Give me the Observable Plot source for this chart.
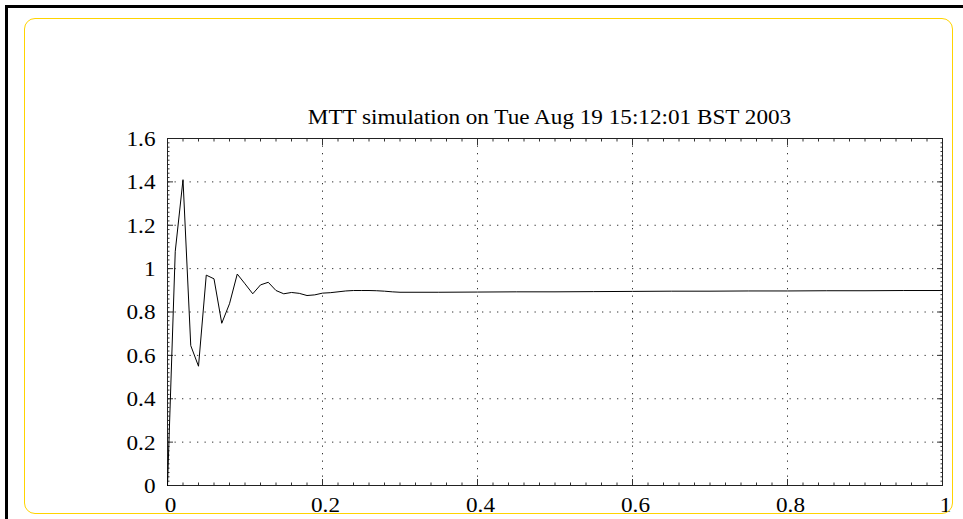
<!DOCTYPE html>
<html>
<head>
<meta charset="utf-8">
<script src="https://cdn.jsdelivr.net/npm/d3@7"></script>
<script src="https://cdn.jsdelivr.net/npm/@observablehq/plot@0.6"></script>
<style>
  html, body { margin: 0; padding: 0; background: #fff; }
  #wrap { position: relative; width: 963px; height: 519px; overflow: hidden; }
  #wrap svg { position: absolute; left: 0; top: 0; }
  #wrap svg text { font-family: "Liberation Serif", "Times New Roman", serif !important; }
  .blackframe { position: absolute; left: 5px; top: 5px; width: 970px; height: 530px;
    border-top: 3px solid #000; border-left: 3px solid #000; box-sizing: border-box; pointer-events: none; }
  .yellowframe { position: absolute; left: 24px; top: 18px; width: 929px; height: 496px;
    border: 1.6px solid #ffd400; border-radius: 11px; box-sizing: border-box; pointer-events: none; }
</style>
</head>
<body>
<div id="wrap"></div>
<script>
const title = "MTT simulation on Tue Aug 19 15:12:01 BST 2003";

const timeValues = [
  0, 0.01, 0.02, 0.03, 0.04, 0.05, 0.06, 0.07, 0.08, 0.09,
  0.10, 0.11, 0.12, 0.13, 0.14, 0.15, 0.16, 0.17, 0.18, 0.19,
  0.20, 0.21, 0.22, 0.23, 0.24, 0.25, 0.26, 0.27, 0.28, 0.29,
  0.30, 0.35, 0.40, 0.45, 0.50, 0.55, 0.60, 0.65, 0.70, 0.75,
  0.80, 0.85, 0.90, 0.95, 1.00
];
const outputValues = [
  0, 1.08, 1.41, 0.645, 0.55, 0.97, 0.953, 0.748, 0.838, 0.975,
  0.93, 0.884, 0.925, 0.937, 0.899, 0.884, 0.89, 0.886, 0.876, 0.879,
  0.887, 0.889, 0.893, 0.897, 0.899, 0.899, 0.899, 0.898, 0.896, 0.893,
  0.891, 0.891, 0.892, 0.893, 0.893, 0.894, 0.895, 0.896, 0.896, 0.897,
  0.897, 0.898, 0.898, 0.899, 0.899
];

const xTicks = [0, 0.2, 0.4, 0.6, 0.8, 1];
const xTickLabels = ["0", "0.2", "0.4", "0.6", "0.8", "1"];
const yTicks = [0, 0.2, 0.4, 0.6, 0.8, 1, 1.2, 1.4, 1.6];
const yTickLabels = ["0", "0.2", "0.4", "0.6", "0.8", "1", "1.2", "1.4", "1.6"];

const data = timeValues.map((t, i) => ({t, v: outputValues[i]}));
const minorX = d3.range(0, 51).map(i => i / 50);
const minorY = d3.range(0, 81).map(i => i / 50);

const gridStyle = {stroke: "#000", strokeOpacity: 0.8, strokeDasharray: "1.3,6.2"};
const tickStyle = {fill: "none", stroke: "#333", label: null};

const chart = Plot.plot({
  width: 963,
  height: 519,
  marginLeft: 167,
  marginRight: 21,
  marginTop: 138,
  marginBottom: 34,
  style: {fontFamily: "'Liberation Serif', 'Times New Roman', serif", fontSize: "20px", background: "transparent", color: "#000"},
  x: {domain: [0, 1], label: null},
  y: {domain: [0, 1.6], label: null},
  marks: [
    Plot.gridX({ticks: xTicks.slice(1, -1), ...gridStyle}),
    Plot.gridY({ticks: yTicks.slice(1, -1), ...gridStyle}),
    Plot.axisX({ticks: minorX, anchor: "bottom", tickSize: -2.5, ...tickStyle}),
    Plot.axisX({ticks: minorX, anchor: "top", tickSize: -2.5, ...tickStyle}),
    Plot.axisY({ticks: minorY, anchor: "left", tickSize: -2.5, ...tickStyle}),
    Plot.axisY({ticks: minorY, anchor: "right", tickSize: -2.5, ...tickStyle}),
    Plot.axisX({ticks: xTicks, anchor: "bottom", tickSize: -6, ...tickStyle}),
    Plot.axisX({ticks: xTicks, anchor: "top", tickSize: -6, ...tickStyle}),
    Plot.axisY({ticks: yTicks, anchor: "left", tickSize: -6, ...tickStyle}),
    Plot.axisY({ticks: yTicks, anchor: "right", tickSize: -6, ...tickStyle}),
    Plot.axisX({ticks: xTicks, anchor: "bottom", tickSize: 0, tickPadding: 12, dx: 3, label: null,
      tickFormat: d => xTickLabels[xTicks.indexOf(d)], fontSize: 20}),
    Plot.axisY({ticks: yTicks, anchor: "left", tickSize: 0, tickPadding: 12, dy: 1, label: null,
      tickFormat: d => yTickLabels[yTicks.indexOf(d)], fontSize: 20}),
    Plot.frame({stroke: "#222", strokeWidth: 1}),
    Plot.line(data, {x: "t", y: "v", stroke: "#000", strokeWidth: 1}),
    Plot.text([title], {frameAnchor: "top", lineAnchor: "bottom", dy: -15, dx: -5.5, fontSize: 20, fill: "#000"})
  ]
});

// the reference lettering is Times stretched horizontally: widen each label about its anchor
chart.querySelectorAll("text").forEach(t => {
  const tr = t.getAttribute("transform") || "";
  t.setAttribute("transform", (tr + " scale(1.16,1)").trim());
});

const wrap = document.getElementById("wrap");
wrap.appendChild(chart);
const bf = document.createElement("div"); bf.className = "blackframe"; wrap.appendChild(bf);
const yf = document.createElement("div"); yf.className = "yellowframe"; wrap.appendChild(yf);
</script>
</body>
</html>
